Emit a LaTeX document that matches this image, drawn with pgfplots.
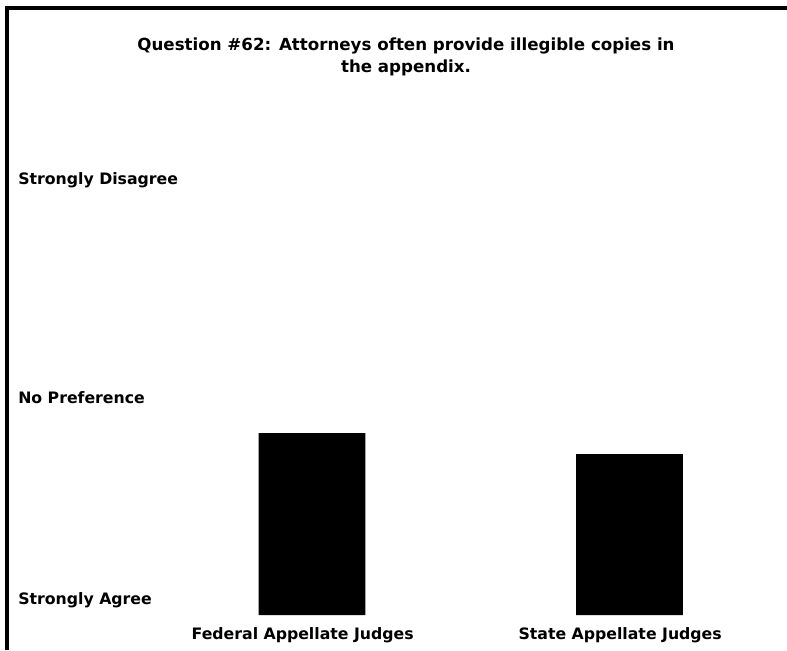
\documentclass[border=0pt]{standalone}
\usepackage{fontspec}
\setmainfont{DejaVu Sans}
\usepackage{pgfplots}
\pgfplotsset{compat=1.18}
\begin{document}
\begin{tikzpicture}
% picture frame: 787 x 650 px, 1px = 0.75pt, origin at top left
\useasboundingbox (0pt,0pt) rectangle (590.25pt,-487.5pt);
\draw[line width=3pt] (5.25pt,-487.5pt) -- (5.25pt,-6pt) -- (590.25pt,-6pt);
\node[align=center, font=\bfseries\fontsize{12.5}{16.5}\selectfont] at (304.5pt,-42.5pt)
  {Question \#62: Attorneys often provide illegible copies in\\the appendix.};
\begin{axis}[
    at={(0pt,-461.25pt)}, anchor=south west,
    scale only axis,
    width=590.25pt, height=461.25pt,
    ybar, bar width=79.9pt,
    xmin=-0.9827, xmax=1.4961,
    ymin=0, ymax=6.15,
    xtick={0,1},
    xticklabels={Federal Appellate Judges, State Appellate Judges},
    ytick={0.15,2.17,4.35},
    yticklabels={Strongly Agree, No Preference, Strongly Disagree},
    axis line style={draw=none},
    major tick length=0pt,
    ticklabel style={font=\bfseries\fontsize{11.8}{14}\selectfont, inner sep=0pt},
    yticklabel style={anchor=west, xshift=13.5pt},
    xticklabel style={anchor=north, yshift=-9pt, xshift=-7pt},
    clip=false,
]
\addplot[fill=black, draw=none] coordinates {(0,1.82) (1,1.61)};
\end{axis}
\end{tikzpicture}
\end{document}
